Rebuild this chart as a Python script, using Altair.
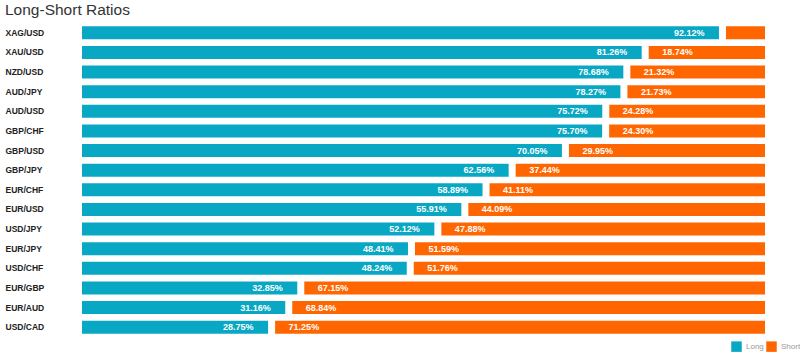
import altair as alt
import pandas as pd

pairs = ["XAG/USD", "XAU/USD", "NZD/USD", "AUD/JPY", "AUD/USD", "GBP/CHF", "GBP/USD", "GBP/JPY",
         "EUR/CHF", "EUR/USD", "USD/JPY", "EUR/JPY", "USD/CHF", "EUR/GBP", "EUR/AUD", "USD/CAD"]
long_pct = [92.12, 81.26, 78.68, 78.27, 75.72, 75.70, 70.05, 62.56, 58.89, 55.91, 52.12, 48.41, 48.24, 32.85, 31.16, 28.75]
short_pct = [7.88, 18.74, 21.32, 21.73, 24.28, 24.30, 29.95, 37.44, 41.11, 44.09, 47.88, 51.59, 51.76, 67.15, 68.84, 71.25]

df = pd.DataFrame({"pair": pairs, "long": long_pct, "short": short_pct})

TEAL = "#08a7c3"
ORANGE = "#ff6600"
W, H = 683, 314
FONT = "Liberation Sans, Arial, sans-serif"

xscale = alt.Scale(domain=[2.1, 98.1], nice=False, zero=False)
yenc = alt.Y("pair:N", sort=pairs, title=None,
             scale=alt.Scale(paddingInner=0.34, paddingOuter=0.17),
             axis=alt.Axis(ticks=False, domain=False, labelAlign="left", labelPadding=77,
                           labelFont=FONT, labelFontSize=8.5, labelFontWeight="bold",
                           labelColor="#222", labelBaseline="middle"))
cscale = alt.Scale(domain=["Long", "Short"], range=[TEAL, ORANGE])
color = alt.Color("series:N", scale=cscale,
                  legend=alt.Legend(title=None, orient="none", direction="horizontal",
                                    legendX=649, legendY=318, symbolType="square",
                                    symbolSize=110, symbolStrokeWidth=0, labelFontSize=8,
                                    labelColor="#999", labelFont="Liberation Sans",
                                    columnPadding=2, labelOffset=4))

base = alt.Chart(df)

long_bar = base.transform_calculate(series="'Long'").mark_bar(xOffset=-3.5, clip=True).encode(
    x=alt.X("long:Q", scale=xscale, axis=None),
    x2=alt.datum(0),
    y=yenc,
    color=color,
)
short_bar = base.transform_calculate(series="'Short'").mark_bar(xOffset=3.5, clip=True).encode(
    x=alt.X("long:Q", scale=xscale, axis=None),
    x2=alt.datum(100),
    y=yenc,
    color=color,
)
long_txt = base.transform_calculate(lbl="format(datum.long, '.2f') + '%'").mark_text(
    align="right", baseline="middle", dx=-18, font=FONT, fontSize=9, fontWeight="bold", color="white"
).encode(x=alt.X("long:Q", scale=xscale), y=yenc, text="lbl:N")
short_txt = base.transform_filter("datum.short >= 10").transform_calculate(
    lbl="format(datum.short, '.2f') + '%'").mark_text(
    align="left", baseline="middle", dx=17, font=FONT, fontSize=9, fontWeight="bold", color="white"
).encode(x=alt.X("long:Q", scale=xscale), y=yenc, text="lbl:N")

chart = alt.layer(long_bar, short_bar, long_txt, short_txt).properties(
    width=W, height=H,
    title=alt.TitleParams("Long-Short Ratios", anchor="start", frame="bounds", fontSize=15.5,
                          fontWeight="normal", color="#333", font="Liberation Sans", offset=5),
    autosize=alt.AutoSizeParams(type="none"),
    padding={"left": 82, "top": 23, "right": 35, "bottom": 17},
).configure_view(stroke=None)

chart.save("out.html", embed_options={"renderer": "svg", "actions": False})
